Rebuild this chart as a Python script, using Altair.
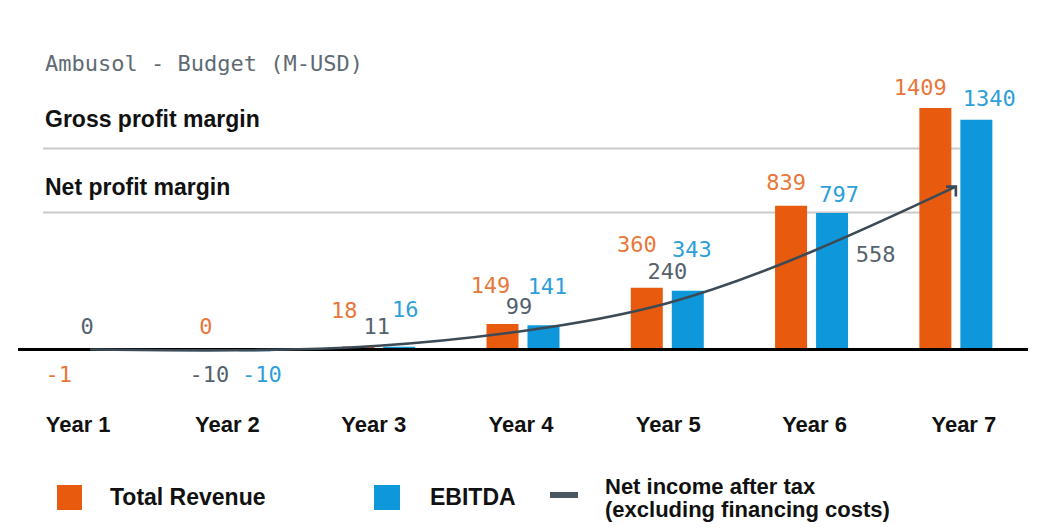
import altair as alt
import pandas as pd

# ---------------- data ----------------
years = ["Year 1", "Year 2", "Year 3", "Year 4", "Year 5", "Year 6", "Year 7"]
total_revenue = [-1, 0, 18, 149, 360, 839, 1409]
ebitda = [None, -10, 16, 141, 343, 797, 1340]
net_income = [0, -10, 11, 99, 240, 558, 950]

# which values carry a printed label
revenue_labelled = [True, True, True, True, True, True, True]
ebitda_labelled = [False, True, True, True, True, True, True]
net_income_labelled = [True, True, True, True, True, True, False]

# hand placement of the value labels (pixel nudges from the bar top / line point)
revenue_nudge_dx = [-11, -8, -14, -12, -10, -5, -15]
revenue_nudge_dy = [25, -22, -35, -38, -43, -23, -20]
ebitda_nudge_dx = [0, 7, 6, 4, 4, 7, 13]
ebitda_nudge_dy = [0, 24, -37, -38, -41, -18, -21]
net_income_nudge_dx = [-3, -25, -2, -4, 0, 64, 0]
net_income_nudge_dy = [-22, 24, -21, -26, -36, 1, 0]
category_nudge_dx = [-12, -7, -5, -2, 1, 3, 8]

series_bars = ["Total Revenue", "EBITDA"]
bar_colors = ["#E85A0E", "#0F97DB"]
label_colors = ["#E8773A", "#2E9FD8"]
ni_label_color = "#55626D"
ni_line_color = "#3C4A55"

legend_labels = ["Total Revenue", "EBITDA"]
legend_line_label = ["Net income after tax", "(excluding financing costs)"]
title_text = "Ambusol - Budget (M-USD)"
row_labels = ["Gross profit margin", "Net profit margin"]

# ---------------- geometry of the scales ----------------
W, H = 1010, 506
X_DOMAIN = [-0.5, 6.5]
Y_DOMAIN = [-959.8, 1992.4]
PX_PER_X = W / (X_DOMAIN[1] - X_DOMAIN[0])
PX_PER_Y = H / (Y_DOMAIN[1] - Y_DOMAIN[0])
BAR_W = 32
BAR_SHIFT = 20.5 / PX_PER_X          # half distance between the two bar centres
series_shift = {"Total Revenue": -BAR_SHIFT, "EBITDA": BAR_SHIFT}

# ---------------- tables ----------------
bar_rows, label_rows = [], []
for i, y in enumerate(years):
    for s, vals, lab, ndx, ndy in [
        ("Total Revenue", total_revenue, revenue_labelled, revenue_nudge_dx, revenue_nudge_dy),
        ("EBITDA", ebitda, ebitda_labelled, ebitda_nudge_dx, ebitda_nudge_dy),
    ]:
        v = vals[i]
        if v is None:
            continue
        xpos = i + series_shift[s]
        bar_rows.append({"year": y, "series": s, "value": v, "xpos": xpos})
        if lab[i]:
            label_rows.append({"series": s, "label": str(v),
                               "lx": xpos + ndx[i] / PX_PER_X,
                               "ly": v - ndy[i] / PX_PER_Y})
bars_df = pd.DataFrame(bar_rows)
bar_labels_df = pd.DataFrame(label_rows)

ni_df = pd.DataFrame({"year": years, "xpos": list(range(len(years))), "value": net_income})
ni_labels_df = pd.DataFrame([
    {"label": str(net_income[i]),
     "lx": i + net_income_nudge_dx[i] / PX_PER_X,
     "ly": net_income[i] - net_income_nudge_dy[i] / PX_PER_Y}
    for i in range(len(years)) if net_income_labelled[i]
])
years_df = pd.DataFrame({"year": years,
                         "lx": [i + category_nudge_dx[i] / PX_PER_X for i in range(len(years))]})
zero_df = pd.DataFrame({"value": [0]})
one = pd.DataFrame({"a": [0]})

# ---------------- scales ----------------
x_scale = alt.Scale(domain=X_DOMAIN, nice=False, zero=False, padding=0)
y_scale = alt.Scale(domain=Y_DOMAIN, nice=False, zero=False, padding=0)

MONO = "DejaVu Sans Mono"
SANS = "Liberation Sans"

# ---------------- layers ----------------
row_lines = [
    alt.Chart(one).mark_rect(color="#C9C9C9").encode(
        x=alt.value(25), x2=alt.value(942), y=alt.value(yy), y2=alt.value(yy + 2))
    for yy in (139.5, 203.5)
]
row_texts = [
    alt.Chart(one).mark_text(align="left", baseline="alphabetic", font=SANS,
                             fontWeight="bold", fontSize=23, color="#111111").encode(
        x=alt.value(27), y=alt.value(yy), text=alt.value(t))
    for t, yy in zip(row_labels, (119, 187))
]

bars = alt.Chart(bars_df).mark_bar(size=BAR_W, orient="vertical").encode(
    x=alt.X("xpos:Q", scale=x_scale, axis=None),
    y=alt.Y("value:Q", scale=y_scale, axis=None, stack=None),
    color=alt.Color("series:N", legend=None,
                    scale=alt.Scale(domain=series_bars, range=bar_colors)),
)

zero_rule = alt.Chart(zero_df).mark_rule(color="#000000", strokeWidth=3).encode(
    y=alt.Y("value:Q", scale=y_scale, axis=None))

ni_line = alt.Chart(ni_df).mark_line(interpolate="basis", color=ni_line_color,
                                     strokeWidth=2.6).encode(
    x=alt.X("xpos:Q", scale=x_scale, axis=None),
    y=alt.Y("value:Q", scale=y_scale, axis=None),
)

arrow = alt.Chart(ni_df).transform_filter(
    alt.datum.year == years[-1]
).mark_point(shape="M-1,0L0,0L0,1", filled=False, size=380,
             strokeWidth=2.6, color=ni_line_color, opacity=1).encode(
    x=alt.X("xpos:Q", scale=x_scale, axis=None),
    y=alt.Y("value:Q", scale=y_scale, axis=None),
)

bar_labels = alt.Chart(bar_labels_df).mark_text(
    font=MONO, fontSize=22, baseline="middle", align="center",
).encode(
    x=alt.X("lx:Q", scale=x_scale, axis=None),
    y=alt.Y("ly:Q", scale=y_scale, axis=None),
    text="label:N",
    color=alt.Color("series:N", legend=None,
                    scale=alt.Scale(domain=series_bars, range=label_colors)),
)

ni_labels = alt.Chart(ni_labels_df).mark_text(
    font=MONO, fontSize=22, baseline="middle", align="center", color=ni_label_color,
).encode(
    x=alt.X("lx:Q", scale=x_scale, axis=None),
    y=alt.Y("ly:Q", scale=y_scale, axis=None),
    text="label:N",
)

cat_labels = alt.Chart(years_df).mark_text(
    font=SANS, fontWeight="bold", fontSize=22, baseline="alphabetic",
    align="center", color="#111111",
).encode(
    x=alt.X("lx:Q", scale=x_scale, axis=None),
    y=alt.value(424), text="year:N",
)

title = alt.Chart(one).mark_text(
    align="left", baseline="alphabetic", font=MONO, fontSize=22, color="#5F6B75"
).encode(x=alt.value(27), y=alt.value(63), text=alt.value(title_text))

# legend
leg_rev_sq = alt.Chart(one).mark_rect(color=bar_colors[0]).encode(
    x=alt.value(39), x2=alt.value(64), y=alt.value(477), y2=alt.value(502))
leg_ebit_sq = alt.Chart(one).mark_rect(color=bar_colors[1]).encode(
    x=alt.value(356), x2=alt.value(382), y=alt.value(477), y2=alt.value(502))
leg_ni_dash = alt.Chart(one).mark_rect(color="#4A5864").encode(
    x=alt.value(532), x2=alt.value(560), y=alt.value(484), y2=alt.value(490))
leg_texts = [
    alt.Chart(one).mark_text(align="left", baseline="alphabetic", font=SANS,
                             fontWeight="bold", fontSize=23, color="#111111").encode(
        x=alt.value(xx), y=alt.value(yy), text=alt.value(t))
    for t, xx, yy in [
        (legend_labels[0], 92, 497),
        (legend_labels[1], 412, 497),
    ]
]
leg_line_text = alt.Chart(one).mark_text(
    align="left", baseline="alphabetic", font=SANS, fontWeight="bold",
    fontSize=22, lineHeight=23, color="#111111",
).encode(x=alt.value(587), y=alt.value(486), text=alt.value(legend_line_label))

chart = alt.layer(
    *row_lines, *row_texts, bars, zero_rule, ni_line, arrow,
    bar_labels, ni_labels, cat_labels, title,
    leg_rev_sq, leg_ebit_sq, leg_ni_dash, *leg_texts, leg_line_text,
).resolve_scale(
    color="independent"
).properties(
    width=W, height=H,
    autosize=alt.AutoSizeParams(type="none"),
    padding={"left": 10, "top": 0, "right": 4, "bottom": 8},
    background="#FFFFFF",
).configure_view(stroke=None)

chart.save("out.html", embed_options={"renderer": "svg", "actions": False})
